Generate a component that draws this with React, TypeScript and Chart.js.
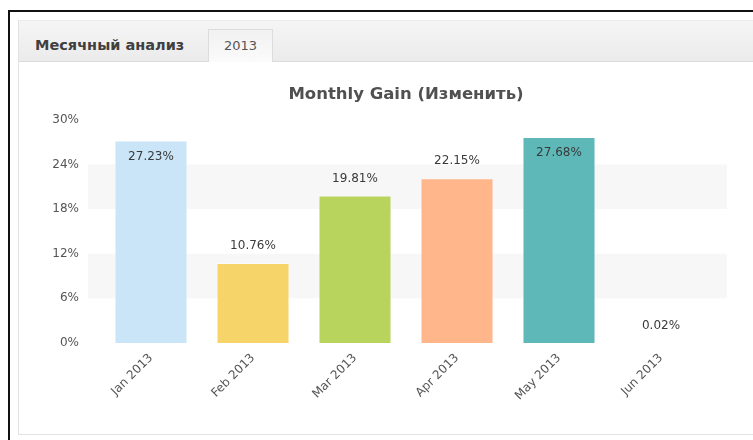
import React, { useEffect, useRef } from "react";
import { Chart, registerables } from "chart.js";

Chart.register(...registerables);

const categories = ["Jan 2013", "Feb 2013", "Mar 2013", "Apr 2013", "May 2013", "Jun 2013"];
const gains = [27.23, 10.76, 19.81, 22.15, 27.68, 0.02];
const barColors = ["#cae5f7", "#f7d469", "#b8d45d", "#ffb68a", "#5eb8b8", "#e8a0a0"];
const yTicks = [0, 6, 12, 18, 24, 30];
const bandRanges = [[6, 12], [18, 24]];
const titleText = "Monthly Gain (Изменить)";
const sectionLabel = "Месячный анализ";
const tabLabel = "2013";

const FONT = "'DejaVu Sans', Verdana, sans-serif";

const bandsPlugin = {
  id: "bands",
  beforeDatasetsDraw(chart: any) {
    const { ctx, chartArea, scales } = chart;
    const y = scales.y;
    ctx.save();
    ctx.fillStyle = "#f7f7f7";
    for (const [a, b] of bandRanges) {
      const y1 = y.getPixelForValue(b);
      const y2 = y.getPixelForValue(a);
      ctx.fillRect(chartArea.left - 12, y1, chartArea.right - chartArea.left + 27, y2 - y1);
    }
    ctx.restore();
  },
};

const labelsPlugin = {
  id: "valueLabels",
  afterDatasetsDraw(chart: any) {
    const { ctx, chartArea } = chart;
    const meta = chart.getDatasetMeta(0);
    ctx.save();
    ctx.font = "12px " + FONT;
    ctx.fillStyle = "#3a3a3a";
    ctx.textAlign = "center";
    ctx.textBaseline = "middle";
    meta.data.forEach((bar: any, i: number) => {
      const v = gains[i];
      const txt = v.toFixed(2) + "%";
      let ty = bar.y - 17;
      if (ty - 7 < chartArea.top) ty = bar.y + 16;
      ctx.fillText(txt, bar.x, ty);
    });
    ctx.restore();
  },
};

function GainChart() {
  const ref = useRef<HTMLCanvasElement>(null);
  useEffect(() => {
    if (!ref.current) return;
    const chart = new Chart(ref.current, {
      type: "bar",
      data: {
        labels: categories,
        datasets: [
          {
            data: gains,
            backgroundColor: barColors,
            borderColor: "rgba(255,255,255,0.35)",
            borderWidth: 1,
            barPercentage: 0.716,
            categoryPercentage: 1,
          },
        ],
      },
      options: {
        responsive: false,
        animation: false,
        layout: { padding: { left: 0, right: 41, top: 0, bottom: 0 } },
        plugins: {
          legend: { display: false },
          tooltip: { enabled: false },
          title: {
            display: true,
            fullSize: false,
            text: titleText,
            color: "#505050",
            font: { family: FONT, size: 16.5, weight: "bold" },
            padding: { top: 85, bottom: 15 },
          },
        },
        scales: {
          x: {
            grid: { display: false, drawTicks: false },
            border: { display: false },
            ticks: {
              color: "#555",
              font: { family: FONT, size: 12 },
              minRotation: 45,
              maxRotation: 45,
              padding: 8,
            },
            afterFit(scale: any) {
              scale.height = 97;
            },
          },
          y: {
            min: 0,
            max: 30,
            grid: { display: false, drawTicks: false },
            border: { display: false },
            afterBuildTicks(scale: any) {
              scale.ticks = yTicks.map((v) => ({ value: v }));
            },
            ticks: {
              color: "#555",
              font: { family: FONT, size: 12 },
              padding: 21,
              callback: (v: any) => v + "%",
            },
            afterFit(scale: any) {
              scale.width = 100;
            },
          },
        },
      },
      plugins: [bandsPlugin, labelsPlugin],
    });
    return () => chart.destroy();
  }, []);
  return (
    <canvas
      ref={ref}
      width={753}
      height={440}
      style={{ position: "absolute", left: 0, top: 0, width: 753, height: 440 }}
    />
  );
}

export default function App() {
  return (
    <div
      style={{
        position: "fixed",
        left: 0,
        top: 0,
        width: 753,
        height: 440,
        overflow: "hidden",
        background: "#ffffff",
        fontFamily: FONT,
      }}
    >
      <div style={{ position: "absolute", left: 8, top: 10, width: 2, height: 430, background: "#111" }} />
      <div style={{ position: "absolute", left: 8, top: 10, width: 745, height: 2, background: "#111" }} />
      <div
        style={{
          position: "absolute",
          left: 18,
          top: 20,
          width: 735,
          height: 415,
          boxSizing: "border-box",
          borderLeft: "1px solid #e2e2e2",
          borderTop: "1px solid #ececec",
          borderBottom: "1px solid #e2e2e2",
          background: "#fff",
        }}
      />
      <div
        style={{
          position: "absolute",
          left: 19,
          top: 21,
          width: 734,
          height: 41,
          boxSizing: "border-box",
          background: "linear-gradient(#f5f5f5, #ebebeb)",
          borderBottom: "1px solid #dcdcdc",
        }}
      />
      <div
        style={{
          position: "absolute",
          left: 35,
          top: 37,
          fontSize: 14.5,
          fontWeight: "bold",
          color: "#404040",
          lineHeight: "17px",
          whiteSpace: "nowrap",
        }}
      >
        {sectionLabel}
      </div>
      <div
        style={{
          position: "absolute",
          left: 208,
          top: 29,
          width: 65,
          height: 33,
          boxSizing: "border-box",
          border: "1px solid #dcdcdc",
          borderBottom: "none",
          background: "linear-gradient(#f1f1f1, #fbfbfb)",
          fontSize: 13,
          color: "#555",
          textAlign: "center",
          lineHeight: "32px",
        }}
      >
        {tabLabel}
      </div>
      <GainChart />
    </div>
  );
}
